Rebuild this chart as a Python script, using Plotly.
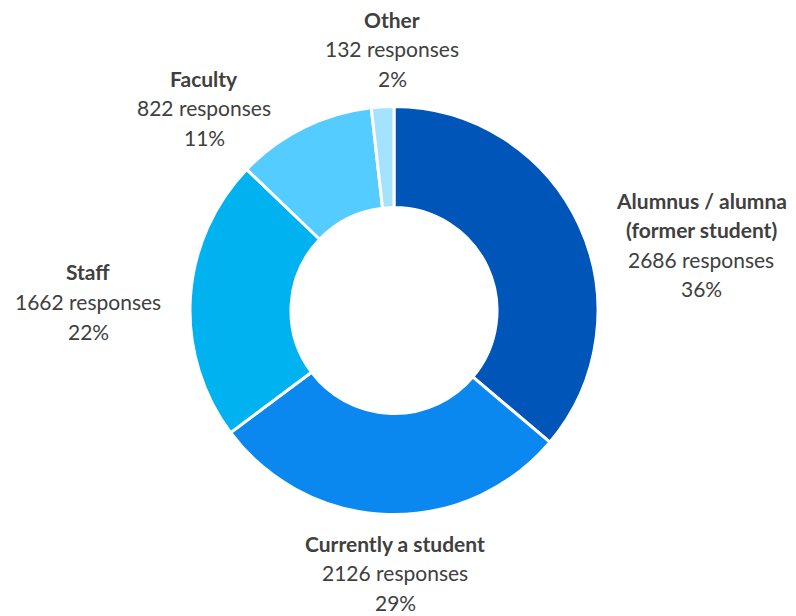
import plotly.graph_objects as go

categories = ["Alumnus / alumna<br>(former student)", "Currently a student", "Staff", "Faculty", "Other"]
title_lines = [["Alumnus / alumna", "(former student)"], ["Currently a student"], ["Staff"], ["Faculty"], ["Other"]]
responses = [2686, 2126, 1662, 822, 132]
percent_labels = ["36%", "29%", "22%", "11%", "2%"]
colors = ["#0055B8", "#0A88F0", "#00B2F0", "#55CCFF", "#A5E2FF"]

W, H = 796, 616
# label block centre-x and first-line centre-y (pixels), layout only
label_pos = [(701, 200), (395, 543), (88, 272), (204, 78), (392, 19)]
line_gap = 29.5

fig = go.Figure(go.Pie(
    labels=categories,
    values=responses,
    sort=False,
    direction="clockwise",
    rotation=0,
    hole=0.505,
    textinfo="none",
    hoverinfo="label+value+percent",
    marker=dict(colors=colors, line=dict(color="white", width=3)),
    domain=dict(x=[190 / W, 598 / W], y=[(H - 514.5) / H, (H - 106.5) / H]),
    showlegend=False,
))

font_family = "Lato"
annotations = []
for i in range(len(categories)):
    cx, cy = label_pos[i]
    lines = [("<b>%s</b>" % t) for t in title_lines[i]]
    lines += ["%d responses" % responses[i], percent_labels[i]]
    for j, txt in enumerate(lines):
        y = cy + j * line_gap
        annotations.append(dict(
            x=cx / W, y=1 - y / H, xref="paper", yref="paper",
            text=txt, showarrow=False, xanchor="center", yanchor="middle",
            font=dict(family=font_family, size=21, color="#404040"),
        ))

fig.update_layout(
    width=W, height=H,
    margin=dict(l=0, r=0, t=0, b=0),
    paper_bgcolor="white",
    plot_bgcolor="white",
    annotations=annotations,
)

fig.write_html("out.html", config={"displayModeBar": False},
               post_script="document.body.style.margin='0';")
